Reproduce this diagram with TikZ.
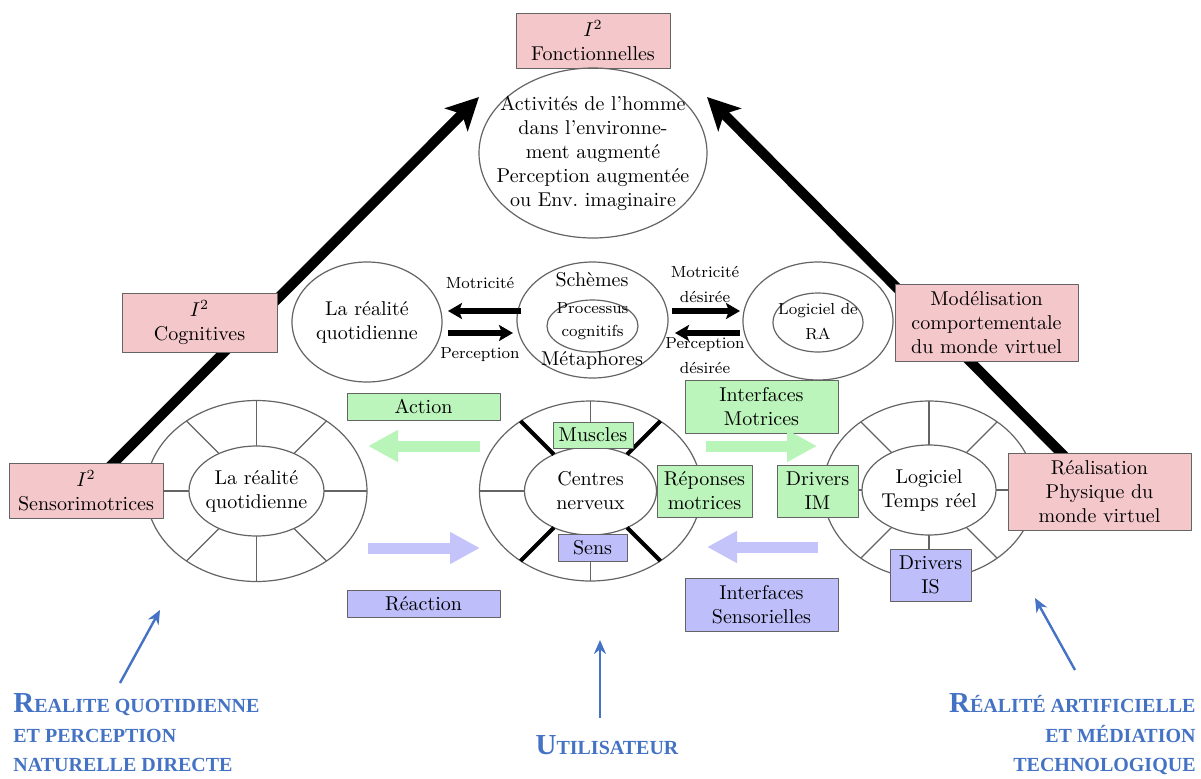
\documentclass[tikz,border=0pt]{standalone}
\usepackage{fontspec}
\usetikzlibrary{arrows.meta,shapes.geometric,backgrounds}
\newfontfamily\labelfont{Liberation Serif}
\definecolor{pinkfill}{RGB}{244,200,202}
\definecolor{greenfill}{RGB}{187,245,187}
\definecolor{bluefill}{RGB}{190,190,250}
\definecolor{greenarr}{RGB}{185,245,185}
\definecolor{bluearr}{RGB}{196,196,250}
\definecolor{labelblue}{RGB}{68,114,196}
\definecolor{linegrey}{RGB}{100,100,100}
\newcommand{\capletter}[1]{{\fontsize{14.5}{16}\selectfont #1}}
\tikzset{
  pinkbox/.style={draw=linegrey,fill=pinkfill,align=center,inner sep=1pt},
  greenbox/.style={draw=linegrey,fill=greenfill,align=center,inner sep=1pt},
  bluebox/.style={draw=linegrey,fill=bluefill,align=center,inner sep=1pt},
  ring/.style={draw=linegrey,ellipse,inner sep=0pt,outer sep=0pt,line width=0.6pt},
  spoke/.style={draw=linegrey,line width=0.6pt},
  thickspoke/.style={draw=black,line width=2pt},
  smalllbl/.style={align=center,font=\footnotesize},
  bigarrow/.style={draw=black,line width=5pt,-{Stealth[length=16pt,width=16pt,inset=4pt]}},
  midarrow/.style={draw=black,line width=3pt,-{Stealth[length=7pt,width=8pt,inset=1.5pt]}},
  fatgreen/.style={draw=greenarr,line width=5.5pt,-{Triangle[length=15pt,width=15pt]}},
  fatblue/.style={draw=bluearr,line width=5.5pt,-{Triangle[length=15pt,width=15pt]}},
  thinblue/.style={draw=labelblue,line width=1.2pt,-{Stealth[length=7pt,width=6pt]}},
  bluelbl/.style={text=labelblue,inner sep=0pt,font=\labelfont\bfseries\fontsize{10}{16}\selectfont},
}
\begin{document}
\begin{tikzpicture}[x=0.5pt,y=-0.5pt,>=Stealth,line join=bevel,]
%%
\path [use as bounding box] (0,0) rectangle (1201,778);
% top
  \node (box_top) at (593,40.5) [pinkbox,minimum width=77pt,minimum height=27.5pt] {$I^2$\\Fonctionnelles};
  \node (ell_top) at (593,153) [ring,minimum width=114pt,minimum height=85pt] {};
  \node (txt_top) at (ell_top.center) [align=center] {Activités de l'homme\\dans l'environne-\\ment augmenté\\Perception augmentée\\ou Env.\ imaginaire};
% middle row
  \node (circ_left) at (367,322) [ring,minimum width=75pt,minimum height=60pt] {};
  \node (txt_left) at (circ_left.center) [align=center] {La réalité\\quotidienne};
  \node (circ_mid) at (592.5,320) [ring,minimum width=75.5pt,minimum height=58pt] {};
  \node (circ_mid_in) at (592.5,326) [ring,minimum width=45.5pt,minimum height=26pt] {};
  \node (txt_mid_in) at (592.5,321.5) [smalllbl] {Processus\\[2pt]cognitifs};
  \node (txt_schemes) at (592,280) {Schèmes};
  \node (txt_metaph) at (592,360) {Métaphores};
  \node (circ_right) at (818,321) [ring,minimum width=75pt,minimum height=59pt] {};
  \node (circ_right_in) at (818,322.5) [ring,minimum width=45pt,minimum height=29.5pt] {};
  \node (txt_right_in) at (818,322) [smalllbl] {Logiciel de\\[3pt]RA};
  \node (lbl_mot) at (480,283) [smalllbl] {Motricité};
  \node (lbl_per) at (480,355) [smalllbl] {Perception};
  \node (lbl_motd) at (705,284.5) [smalllbl] {Motricité\\[3pt]désirée};
  \node (lbl_perd) at (705,356) [smalllbl] {Perception\\[3pt]désirée};
  \draw [midarrow,shorten <=-2pt,shorten >=3pt] ([yshift=4.5pt]circ_mid.west) -- ([yshift=5.5pt]circ_left.east);
  \draw [midarrow,shorten <=3pt,shorten >=2pt] ([yshift=-5.5pt]circ_left.east) -- ([yshift=-6.5pt]circ_mid.west);
  \draw [midarrow,shorten <=2pt,shorten >=1.5pt] ([yshift=4.5pt]circ_mid.east) -- ([yshift=5pt]circ_right.west);
  \draw [midarrow,shorten <=1.5pt,shorten >=3.5pt] ([yshift=-6pt]circ_right.west) -- ([yshift=-6.5pt]circ_mid.east);
% bottom rings
  \node (ring_l_out) at (256.5,491) [ring,minimum width=110.5pt,minimum height=90.5pt] {};
  \node (ring_l_in) at (256.5,491) [ring,minimum width=67.5pt,minimum height=45pt] {};
  \node (txt_ring_l) at (ring_l_in.center) [align=center] {La réalité\\quotidienne};
  \foreach \a in {0,45,...,315} \draw [spoke] (ring_l_in.\a) -- (ring_l_out.\a);
  \node (ring_m_out) at (590.5,491) [ring,minimum width=111pt,minimum height=90pt] {};
  \node (ring_m_in) at (590.5,491) [ring,minimum width=66pt,minimum height=44pt] {};
  \node (txt_ring_m) at (ring_m_in.center) [align=center] {Centres\\nerveux};
  \foreach \a in {0,90,180,270} \draw [spoke] (ring_m_in.\a) -- (ring_m_out.\a);
  \foreach \a in {45,135,225,315} \draw [thickspoke] (ring_m_in.\a) -- (ring_m_out.\a);
  \node (ring_r_out) at (929,490) [ring,minimum width=106pt,minimum height=89pt] {};
  \node (ring_r_in) at (929,490) [ring,minimum width=67pt,minimum height=45pt] {};
  \node (txt_ring_r) at (ring_r_in.center) [align=center] {Logiciel\\Temps réel};
  \foreach \a in {0,45,...,315} \draw [spoke] (ring_r_in.\a) -- (ring_r_out.\a);
% boxes
  \node (box_cog) at (199.5,322.5) [pinkbox,minimum width=77.5pt,minimum height=29.5pt] {$I^2$\\Cognitives};
  \node (box_sm) at (86,490.5) [pinkbox,minimum width=77pt,minimum height=27.5pt] {$I^2$\\Sensorimotrices};
  \node (box_mod) at (986.5,322.5) [pinkbox,minimum width=91.5pt,minimum height=38.5pt] {Modélisation\\comportementale\\du monde virtuel};
  \node (box_real) at (1099.5,491.5) [pinkbox,minimum width=91.5pt,minimum height=38.5pt] {Réalisation\\Physique du\\monde virtuel};
  \node (box_muscles) at (593,435) [greenbox,minimum width=40pt,minimum height=13pt] {Muscles};
  \node (box_sens) at (592.5,547.5) [bluebox,minimum width=34.5pt,minimum height=13.5pt] {Sens};
  \node (box_repm) at (704.5,491) [greenbox,minimum width=47.5pt,minimum height=26pt] {Réponses\\motrices};
  \node (box_drim) at (817.5,491) [greenbox,minimum width=40.5pt,minimum height=26pt] {Drivers\\IM};
  \node (box_dris) at (930.5,575) [bluebox,minimum width=40.5pt,minimum height=26pt] {Drivers\\IS};
  \node (box_action) at (423.5,406.5) [greenbox,minimum width=76.5pt,minimum height=13.5pt] {Action};
  \node (box_reaction) at (423.5,603.5) [bluebox,minimum width=76.5pt,minimum height=13.5pt] {Réaction};
  \node (box_intm) at (761.5,406.5) [greenbox,minimum width=76.5pt,minimum height=26.5pt] {Interfaces\\Motrices};
  \node (box_ints) at (761.5,604.5) [bluebox,minimum width=76.5pt,minimum height=26.5pt] {Interfaces\\Sensorielles};
% flow arrows
  \coordinate (fg_l_a) at (480,446);
  \coordinate (fg_l_b) at (368,446);
  \coordinate (fb_l_a) at (368,548);
  \coordinate (fb_l_b) at (480,548);
  \coordinate (fg_r_a) at (706,446);
  \coordinate (fg_r_b) at (817,446);
  \coordinate (fb_r_a) at (818,547);
  \coordinate (fb_r_b) at (707,547);
  \draw [fatgreen] (fg_l_a) -- (fg_l_b);
  \draw [fatblue] (fb_l_a) -- (fb_l_b);
  \draw [fatgreen] (fg_r_a) -- (fg_r_b);
  \draw [fatblue] (fb_r_a) -- (fb_r_b);
% blue labels
  \node (lbl_left_a) at (13,712) [bluelbl,anchor=base west] {\capletter{R}EALITE QUOTIDIENNE};
  \node (lbl_left_b) at (13,742) [bluelbl,anchor=base west] {ET PERCEPTION};
  \node (lbl_left_c) at (13,771) [bluelbl,anchor=base west] {NATURELLE DIRECTE};
  \node (lbl_mid) at (607,754) [bluelbl,anchor=base] {\capletter{U}TILISATEUR};
  \node (lbl_right_a) at (1196,712) [bluelbl,anchor=base east] {\capletter{R}ÉALITÉ ARTIFICIELLE};
  \node (lbl_right_b) at (1196,742) [bluelbl,anchor=base east] {ET MÉDIATION};
  \node (lbl_right_c) at (1196,771) [bluelbl,anchor=base east] {TECHNOLOGIQUE};
  \coordinate (tail_bl) at (120,683);
  \coordinate (tip_bl) at (160,610);
  \coordinate (tail_bm) at (600,718);
  \coordinate (tip_bm) at (600,640);
  \coordinate (tail_br) at (1075,670);
  \coordinate (tip_br) at (1035,598);
  \draw [thinblue] (tail_bl) -- (tip_bl);
  \draw [thinblue] (tail_bm) -- (tip_bm);
  \draw [thinblue] (tail_br) -- (tip_br);
% big arrows
  \coordinate (tip_fl) at (479,97);
  \coordinate (tip_fr) at (707,97);
\begin{scope}[on background layer]
  \fill [white] (0,0) rectangle (1201,778);
  \draw [bigarrow] (box_sm.center) -- (tip_fl);
  \draw [bigarrow] (box_real.center) -- (tip_fr);
\end{scope}
%
\end{tikzpicture}
\end{document}
